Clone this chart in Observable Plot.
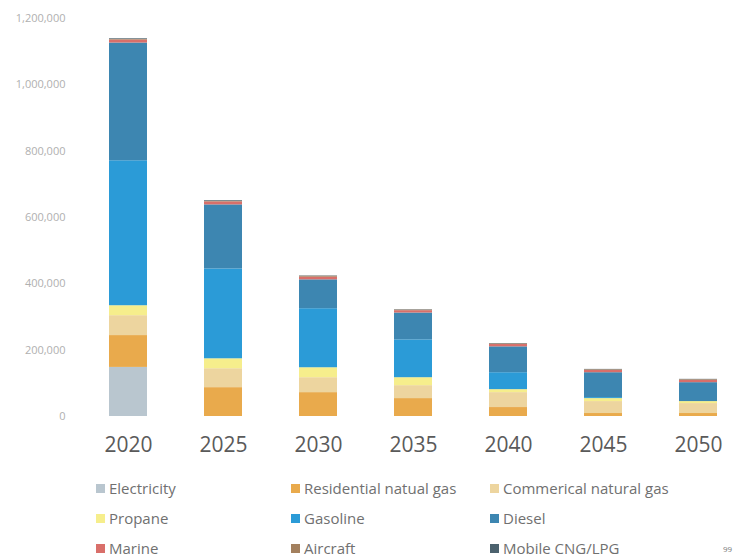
<!DOCTYPE html>
<html>
<head>
<meta charset="utf-8">
<script src="https://cdn.jsdelivr.net/npm/d3@7"></script>
<script src="https://cdn.jsdelivr.net/npm/@observablehq/plot@0.6"></script>
<style>
  html, body { margin: 0; padding: 0; background: #fff; }
  #wrap { width: 739px; height: 559px; position: relative; overflow: hidden; font-family: "Open Sans", "Noto Sans", sans-serif; }
  #legend { position: absolute; left: 96px; top: 478px; display: grid; grid-template-columns: 195px 199px 200px; row-gap: 10px; font-size: 15px; color: #707070; }
  .item { display: flex; align-items: center; height: 20px; white-space: nowrap; }
  .sw { width: 9px; height: 9px; margin-right: 4px; display: inline-block; }
  #page { position: absolute; left: 723px; top: 543px; font-size: 8px; color: #777; }
</style>
</head>
<body>
<div id="wrap">
  <div id="chart"></div>
  <div id="legend"></div>
  <div id="page">99</div>
</div>
<script>
const years = ["2020", "2025", "2030", "2035", "2040", "2045", "2050"];
const seriesNames = ["Electricity", "Residential natual gas", "Commerical natural gas", "Propane", "Gasoline", "Diesel", "Marine", "Aircraft", "Mobile CNG/LPG"];
const seriesColors = ["#b9c6cf", "#e9aa4c", "#edd59f", "#f6ee8c", "#2b9bd7", "#3d86b1", "#d96f6a", "#a3805e", "#4c626e"];

const electricity = [148000, 0, 0, 0, 0, 0, 0];
const residential = [96000, 87000, 72000, 54000, 27000, 9000, 9000];
const commercial  = [60000, 57000, 45000, 39000, 45000, 36000, 30000];
const propane     = [30000, 30000, 30000, 24000, 9000, 9000, 6000];
const gasoline    = [437000, 271000, 178000, 114000, 51000, 3000, 0];
const diesel      = [355000, 193000, 87000, 81000, 78000, 75000, 57000];
const marine      = [9000, 9000, 8000, 7000, 7000, 7000, 7000];
const aircraft    = [2000, 2000, 3000, 2000, 2000, 2000, 2000];
const mobileCNG   = [2000, 2000, 1000, 1000, 1000, 1000, 1000];

const yTicks = [0, 200000, 400000, 600000, 800000, 1000000, 1200000];

const seriesValues = [electricity, residential, commercial, propane, gasoline, diesel, marine, aircraft, mobileCNG];
const rows = [];
seriesNames.forEach((name, i) => {
  years.forEach((yr, j) => rows.push({year: yr, type: name, value: seriesValues[i][j]}));
});

const chart = Plot.plot({
  width: 739,
  height: 465,
  marginTop: 18,
  marginBottom: 49,
  marginLeft: 98,
  marginRight: 11,
  style: { fontFamily: "'Open Sans', 'Noto Sans', sans-serif", background: "#fff" },
  x: { domain: years, paddingInner: 0.6, paddingOuter: 0.1, label: null },
  y: { domain: [0, 1200000], label: null },
  color: { domain: seriesNames, range: seriesColors },
  marks: [
    Plot.barY(rows, { x: "year", y: "value", fill: "type", order: seriesNames }),
    Plot.axisX({ tickSize: 0, tickPadding: 21, fontSize: 21, color: "#5a5a5a", label: null }),
    Plot.axisY({ ticks: yTicks, tickSize: 0, tickPadding: 33, fontSize: 11, color: "#b0b0b0", label: null, tickFormat: d3.format(",") })
  ]
});
document.getElementById("chart").appendChild(chart);

const legend = document.getElementById("legend");
seriesNames.forEach((name, i) => {
  const it = document.createElement("div");
  it.className = "item";
  const sw = document.createElement("span");
  sw.className = "sw";
  sw.style.background = seriesColors[i];
  it.appendChild(sw);
  it.appendChild(document.createTextNode(name));
  legend.appendChild(it);
});
</script>
</body>
</html>
